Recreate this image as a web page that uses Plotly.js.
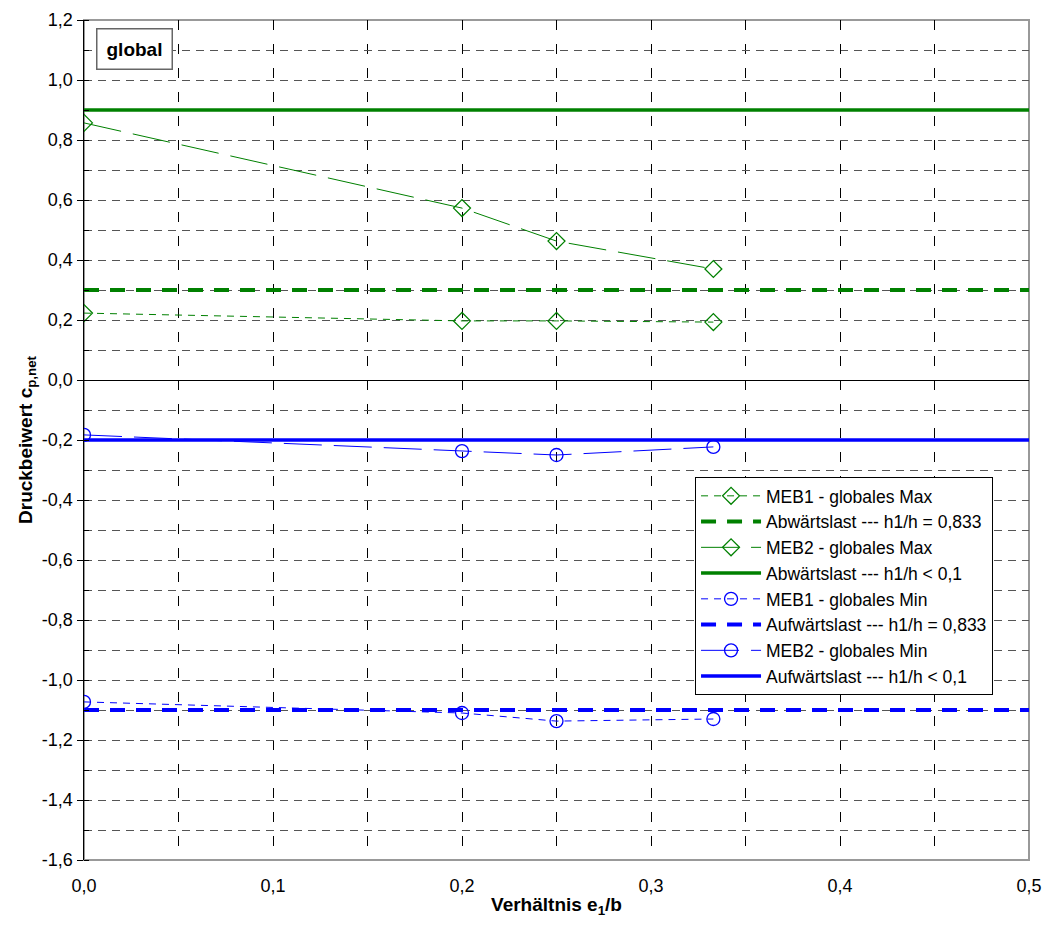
<!DOCTYPE html>
<html><head><meta charset="utf-8">
<script src="https://cdn.plot.ly/plotly-3.0.1.min.js"></script>
<style>body{margin:0;background:#fff}#chart{width:1048px;height:926px}</style>
</head><body><div id="chart"></div>
<script>
const xPts = [0, 0.2, 0.25, 0.333];
const meb1Max = [0.223, 0.197, 0.197, 0.193];
const meb2Max = [0.857, 0.573, 0.463, 0.37];
const meb1Min = [-1.073, -1.11, -1.137, -1.13];
const meb2Min = [-0.183, -0.237, -0.25, -0.223];
const xLine = [0, 0.5];
const abw0833 = [0.3, 0.3];
const abw01 = [0.9, 0.9];
const aufw0833 = [-1.1, -1.1];
const aufw01 = [-0.2, -0.2];
const yTickVals = [1.2,1.0,0.8,0.6,0.4,0.2,0.0,-0.2,-0.4,-0.6,-0.8,-1.0,-1.2,-1.4,-1.6];
const yTickText = ["1,2","1,0","0,8","0,6","0,4","0,2","0,0","-0,2","-0,4","-0,6","-0,8","-1,0","-1,2","-1,4","-1,6"];
const xTickVals = [0,0.1,0.2,0.3,0.4,0.5];
const xTickText = ["0,0","0,1","0,2","0,3","0,4","0,5"];

const G = '#008000', B = '#0000FF';
const FONT = 'Liberation Sans, Arial, sans-serif';
const traces = [
  {x:xPts,y:meb1Max,name:'MEB1 - globales Max',mode:'lines+markers',line:{color:G,width:1,dash:'7px,6px'},marker:{symbol:'diamond-open',size:13,color:G,line:{width:1.3}}},
  {x:xLine,y:abw0833,name:'Abwärtslast --- h1/h = 0,833',mode:'lines',line:{color:G,width:4,dash:'15px,11px'}},
  {x:xPts,y:meb2Max,name:'MEB2 - globales Max',mode:'lines+markers',line:{color:G,width:1,dash:'38px,12px'},marker:{symbol:'diamond-open',size:13,color:G,line:{width:1.3}}},
  {x:xLine,y:abw01,name:'Abwärtslast --- h1/h < 0,1',mode:'lines',line:{color:G,width:3.5}},
  {x:xPts,y:meb1Min,name:'MEB1 - globales Min',mode:'lines+markers',line:{color:B,width:1,dash:'7px,6px'},marker:{symbol:'circle-open',size:13,color:B,line:{width:1.3}}},
  {x:xLine,y:aufw0833,name:'Aufwärtslast --- h1/h = 0,833',mode:'lines',line:{color:B,width:4,dash:'15px,11px'}},
  {x:xPts,y:meb2Min,name:'MEB2 - globales Min',mode:'lines+markers',line:{color:B,width:1,dash:'38px,12px'},marker:{symbol:'circle-open',size:13,color:B,line:{width:1.3}}},
  {x:xLine,y:aufw01,name:'Aufwärtslast --- h1/h < 0,1',mode:'lines',line:{color:B,width:3.5}}
];
traces.forEach((t,i)=>{t.legendgroup='g'+i;});

const layout = {
  width:1048,height:926,
  margin:{l:84,r:19,t:20,b:66},
  paper_bgcolor:'#fff',plot_bgcolor:'#fff',
  font:{family:FONT,color:'#000',size:18},
  showlegend:true,
  legend:{x:0.6466,y:0.456,xanchor:'left',yanchor:'top',bgcolor:'#fff',bordercolor:'#000',borderwidth:1,
    font:{family:FONT,size:17.5},tracegroupgap:0,itemwidth:60,traceorder:'grouped'},
  xaxis:{range:[0,0.5],tickvals:xTickVals,ticktext:xTickText,showgrid:true,gridcolor:'#000',griddash:'10px,14px',gridwidth:1,
    minor:{dtick:0.05,showgrid:true,gridcolor:'#000',griddash:'10px,14px',gridwidth:1},
    zeroline:false,showline:false,ticks:'',ticklabelstandoff:13,tickfont:{size:18},
    title:{text:'<b>Verhältnis e<sub>1</sub>/b</b>',font:{size:19},standoff:2}},
  yaxis:{range:[-1.6,1.2],tickvals:yTickVals,ticktext:yTickText,showgrid:true,gridcolor:'#555',griddash:'8px,6px',gridwidth:1,
    minor:{dtick:0.1,showgrid:true,gridcolor:'#555',griddash:'8px,6px',gridwidth:1,ticks:'inside',ticklen:5,tickcolor:'#000'},
    zeroline:true,zerolinecolor:'#000',zerolinewidth:1,showline:true,linecolor:'#000',linewidth:1.5,
    ticks:'outside',ticklen:6,tickcolor:'#000',tickfont:{size:18},
    title:{text:'<b>Druckbeiwert c<sub>p,net</sub></b>',font:{size:19},standoff:4}},
  shapes:[{type:'rect',xref:'paper',yref:'paper',x0:0,x1:1,y0:0,y1:1,line:{color:'#999',width:2},layer:'below'}],
  annotations:[{xref:'paper',yref:'paper',x:0.0127,y:0.9905,xanchor:'left',yanchor:'top',showarrow:false,
    text:'<b>global</b>',font:{family:FONT,size:19,color:'#000'},bordercolor:'#666',borderwidth:1.5,borderpad:9,bgcolor:'#fff'}]
};
Plotly.newPlot('chart',traces,layout,{displayModeBar:false,staticPlot:true});
</script></body></html>
